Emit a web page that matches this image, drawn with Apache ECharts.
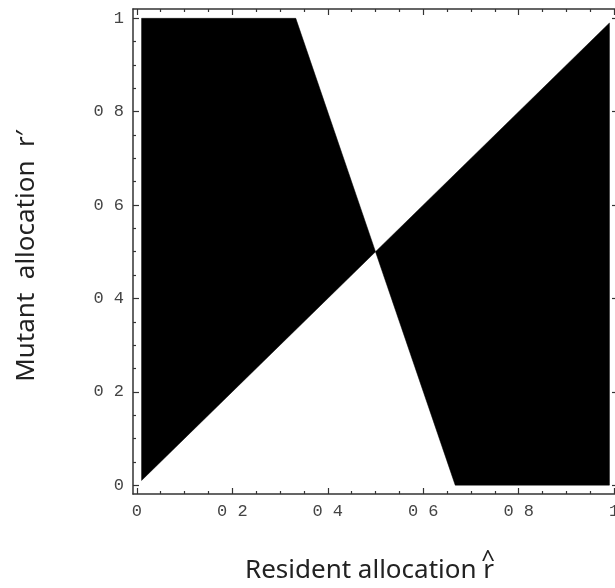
<!DOCTYPE html>
<html>
<head>
<meta charset="utf-8">
<script src="https://cdn.jsdelivr.net/npm/echarts@6/dist/echarts.min.js"></script>
<style>
  html, body { margin: 0; padding: 0; background: #fff; }
  #chart { width: 615px; height: 588px; }
</style>
</head>
<body>
<div id="chart"></div>
<script>
// regions where the mutant can invade (black), vertices in (r^, r')
var leftRegion = [[0.01, 0.01], [0.01, 1], [0.333, 1], [0.5, 0.5]];
var rightRegion = [[0.5, 0.5], [0.667, 0], [0.99, 0], [0.99, 0.99]];
var regions = [leftRegion, rightRegion];

// ticks
var majorTicks = [0, 0.2, 0.4, 0.6, 0.8, 1];
var majorLabels = ['0', '0 2', '0 4', '0 6', '0 8', '1'];
var minorTicks = [0.05, 0.1, 0.15, 0.25, 0.3, 0.35, 0.45, 0.5, 0.55, 0.65, 0.7, 0.75, 0.85, 0.9, 0.95];

var xTitle = 'Resident allocation r';
var yTitle = 'Mutant  allocation  r\u2032';

var chart = echarts.init(document.getElementById('chart'));

var frameColor = '#333';
var labelStyle = {
    fontFamily: 'Liberation Mono',
    fontSize: 17,
    color: '#444'
};

function labelFor(v) {
    var i = majorTicks.indexOf(v);
    return i >= 0 ? majorLabels[i] : '';
}

function makeAxis(pos, min, max, major, showLine, showLabel) {
    return {
        type: 'value',
        position: pos,
        min: min,
        max: max,
        axisLine: { show: showLine, onZero: false, lineStyle: { color: frameColor, width: 1.5 } },
        axisTick: {
            show: true,
            inside: true,
            length: major ? 6 : 3,
            customValues: major ? majorTicks : minorTicks,
            lineStyle: { color: frameColor, width: 1.2 }
        },
        axisLabel: showLabel ? Object.assign({
            show: true,
            customValues: majorTicks,
            margin: 9,
            formatter: function (v) { return labelFor(v); }
        }, labelStyle) : { show: false },
        splitLine: { show: false }
    };
}

var xMin = -0.008, xMax = 1.008;
var yMin = -0.019, yMax = 1.02;

var option = {
    animation: false,
    backgroundColor: '#fff',
    grid: { left: 133, top: 9, width: 485, height: 485, outerBoundsMode: 'none' },
    xAxis: [
        makeAxis('bottom', xMin, xMax, true, true, true),
        makeAxis('bottom', xMin, xMax, false, false, false),
        makeAxis('top', xMin, xMax, true, true, false),
        makeAxis('top', xMin, xMax, false, false, false)
    ],
    yAxis: [
        makeAxis('left', yMin, yMax, true, true, true),
        makeAxis('left', yMin, yMax, false, false, false),
        makeAxis('right', yMin, yMax, true, true, false),
        makeAxis('right', yMin, yMax, false, false, false)
    ],
    series: [{
        type: 'custom',
        xAxisIndex: 0,
        yAxisIndex: 0,
        data: regions.map(function (r, i) { return [i]; }),
        encode: { x: -1, y: -1 },
        renderItem: function (params, api) {
            var poly = regions[params.dataIndex];
            return {
                type: 'polygon',
                shape: { points: poly.map(function (p) { return api.coord(p); }) },
                style: { fill: '#000', stroke: '#000', lineWidth: 0.5 }
            };
        }
    }],
    graphic: [
        {
            type: 'text',
            x: 245,
            y: 571,
            style: {
                text: xTitle, fontFamily: 'Noto Sans', fontSize: 26, fill: '#222',
                align: 'left', verticalAlign: 'middle'
            }
        },
        {
            type: 'text',
            x: 488,
            y: 560,
            style: {
                text: '^', fontFamily: 'Noto Sans', fontSize: 24, fill: '#222',
                align: 'center', verticalAlign: 'middle'
            }
        },
        {
            type: 'text',
            x: 27,
            y: 256,
            rotation: Math.PI / 2,
            style: {
                text: yTitle, fontFamily: 'Noto Sans', fontSize: 26, fill: '#222',
                align: 'center', verticalAlign: 'middle'
            }
        }
    ]
};

chart.setOption(option);
</script>
</body>
</html>
